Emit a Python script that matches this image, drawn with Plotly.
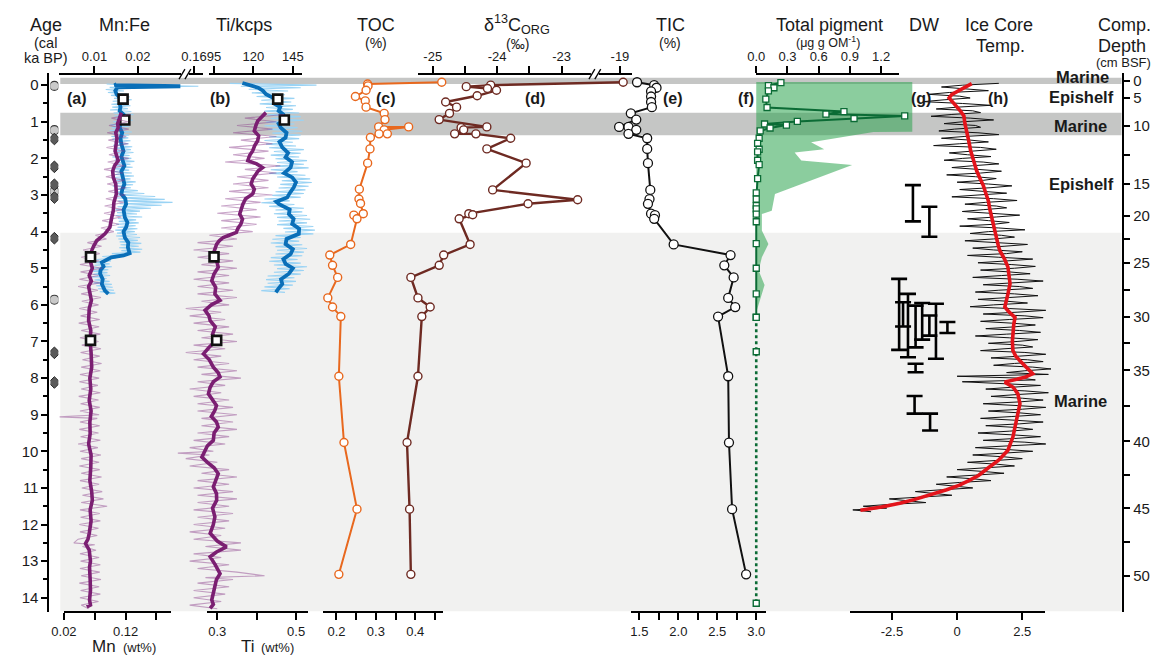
import plotly.graph_objects as go

W, H = 1160, 658
def px(x): return x / W
def py(y): return 1 - y / H

# ---------------- age axis model (pixels of the reference) ----------------
AGE_PX0, PX_PER_KA = 84.3, 36.67
AGE_RANGE = [(612 - AGE_PX0) / PX_PER_KA, (72 - AGE_PX0) / PX_PER_KA]

# ---------------- data ----------------
LEFT_CIRCLE_AGE = [0.02, 1.23, 2.90, 5.86]
LEFT_DIAMOND_AGE = [1.47, 2.23, 2.72, 3.07, 4.18, 7.31, 8.12]

MARINE_BANDS = [(-0.20, -0.035), (0.75, 1.37)]
MARINE_LOWER_START = 4.03

# (a) Mn:Fe smoothed (blue) and raw (light blue)
MNFE_SM = [(-0.03,0.0151),(0.00,0.0146),(0.03,0.0298),(0.06,0.0153),(0.15,0.0148),(0.25,0.0151),(0.38,0.0162),
           (0.50,0.0158),(0.60,0.0160),(0.70,0.0158),(0.80,0.0167),(0.95,0.0166),(1.05,0.0160),(1.16,0.0158),
           (1.30,0.0164),(1.45,0.0160),(1.61,0.0162),(1.80,0.0167),(1.95,0.0162),(2.06,0.0166),(2.20,0.0169),
           (2.35,0.0162),(2.52,0.0166),(2.70,0.0169),(2.85,0.0164),(2.97,0.0162),(3.10,0.0171),(3.25,0.0173),
           (3.40,0.0167),(3.61,0.0170),(3.75,0.0176),(3.88,0.0173),(4.00,0.0167),(4.16,0.0170),(4.30,0.0178),
           (4.43,0.0177),(4.59,0.0181),(4.65,0.0167),(4.70,0.0139),(4.77,0.0126),(4.84,0.0117),(4.95,0.0121),
           (5.05,0.0114),(5.15,0.0113),(5.30,0.0119),(5.43,0.0117),(5.55,0.0123),(5.61,0.0124),(5.70,0.0132)]
MNFE_RAW = [(-0.03,0.0128),(0.00,0.0175),(0.03,0.161),(0.06,0.0135),(0.09,0.0172),(0.12,0.0126),(0.16,0.0168),
            (0.20,0.0131),(0.24,0.0175),(0.28,0.0138),(0.32,0.0181),(0.36,0.0145),(0.40,0.0186),(0.44,0.0142),
            (0.48,0.0178),(0.52,0.0139),(0.56,0.0183),(0.60,0.0141),(0.64,0.0177),(0.68,0.0136),(0.72,0.0185),
            (0.76,0.0144),(0.80,0.0190),(0.84,0.0146),(0.88,0.0182),(0.92,0.0150),(0.96,0.0188),(1.00,0.0143),
            (1.04,0.0176),(1.08,0.0137),(1.12,0.0181),(1.16,0.0140),(1.20,0.0173),(1.24,0.0135),(1.28,0.0186),
            (1.32,0.0142),(1.36,0.0180),(1.40,0.0139),(1.44,0.0178),(1.48,0.0141),(1.52,0.0183),(1.56,0.0145),
            (1.60,0.0179),(1.64,0.0143),(1.68,0.0187),(1.72,0.0148),(1.76,0.0184),(1.80,0.0144),(1.84,0.0190),
            (1.88,0.0146),(1.92,0.0181),(1.96,0.0141),(2.00,0.0185),(2.04,0.0147),(2.08,0.0192),(2.12,0.0149),
            (2.16,0.0183),(2.20,0.0145),(2.24,0.0188),(2.28,0.0140),(2.32,0.0180),(2.36,0.0143),(2.40,0.0186),
            (2.44,0.0148),(2.48,0.0191),(2.52,0.0144),(2.56,0.0183),(2.60,0.0150),(2.64,0.0195),(2.68,0.0146),
            (2.72,0.0189),(2.76,0.0142),(2.80,0.0184),(2.84,0.0147),(2.88,0.0200),(2.92,0.0145),(2.96,0.0215),
            (3.00,0.0150),(3.04,0.0240),(3.08,0.0152),(3.12,0.0262),(3.16,0.0155),(3.20,0.0280),(3.24,0.0158),
            (3.28,0.0255),(3.32,0.0153),(3.36,0.0230),(3.40,0.0149),(3.44,0.0205),(3.48,0.0152),(3.52,0.0198),
            (3.56,0.0150),(3.60,0.0210),(3.64,0.0154),(3.68,0.0196),(3.72,0.0156),(3.76,0.0202),(3.80,0.0150),
            (3.84,0.0195),(3.88,0.0153),(3.92,0.0199),(3.96,0.0148),(4.00,0.0193),(4.04,0.0152),(4.08,0.0198),
            (4.12,0.0150),(4.16,0.0205),(4.20,0.0155),(4.24,0.0200),(4.28,0.0158),(4.32,0.0208),(4.36,0.0160),
            (4.40,0.0202),(4.44,0.0157),(4.48,0.0210),(4.52,0.0162),(4.56,0.0206),(4.60,0.0140),(4.64,0.0175),
            (4.68,0.0118),(4.72,0.0150),(4.76,0.0105),(4.80,0.0138),(4.84,0.0098),(4.88,0.0135),(4.92,0.0100),
            (4.96,0.0140),(5.00,0.0097),(5.04,0.0132),(5.08,0.0095),(5.12,0.0130),(5.16,0.0098),(5.20,0.0136),
            (5.24,0.0094),(5.28,0.0128),(5.32,0.0100),(5.36,0.0135),(5.40,0.0098),(5.44,0.0140),(5.48,0.0104),
            (5.52,0.0142),(5.56,0.0108),(5.60,0.0145),(5.64,0.0112),(5.68,0.0148),(5.70,0.0125)]

# (a) Mn wt% smoothed (purple) and raw
MN_SM = [(0.75,0.113),(0.9,0.110),(1.05,0.107),(1.16,0.108),(1.3,0.104),(1.45,0.106),(1.61,0.105),(1.8,0.103),
         (2.06,0.108),(2.2,0.102),(2.35,0.099),(2.52,0.100),(2.7,0.104),(2.97,0.105),(3.2,0.101),(3.43,0.100),
         (3.65,0.097),(3.88,0.0945),(4.06,0.0865),(4.15,0.079),(4.25,0.073),(4.4,0.068),(4.52,0.065),(4.79,0.0625),
         (5.0,0.066),(5.2,0.061),(5.35,0.0645),(5.5,0.060),(5.7,0.063),(5.88,0.0645),(6.1,0.061),(6.43,0.060),
         (6.7,0.0635),(7.0,0.0625),(7.3,0.064),(7.7,0.065),(8.0,0.062),(8.3,0.0635),(8.61,0.061),(8.9,0.064),
         (9.2,0.062),(9.52,0.0625),(9.8,0.060),(10.1,0.064),(10.43,0.0635),(10.8,0.062),(11.1,0.065),(11.34,0.066),
         (11.6,0.0625),(11.9,0.064),(12.24,0.061),(12.4,0.059),(12.52,0.055),(12.7,0.061),(13.0,0.063),
         (13.16,0.0615),(13.5,0.0625),(13.8,0.063),(14.06,0.0615),(14.2,0.063),(14.25,0.057)]
MN_RAW = [(0.8,0.128),(0.9,0.097),(1.0,0.124),(1.1,0.093),(1.2,0.125),(1.3,0.090),(1.4,0.121),(1.5,0.092),
          (1.6,0.124),(1.7,0.089),(1.8,0.119),(1.9,0.093),(2.0,0.125),(2.1,0.091),(2.2,0.118),(2.3,0.085),
          (2.4,0.116),(2.5,0.088),(2.6,0.118),(2.7,0.090),(2.8,0.121),(2.9,0.092),(3.0,0.120),(3.1,0.088),
          (3.2,0.117),(3.3,0.086),(3.4,0.115),(3.5,0.085),(3.6,0.113),(3.7,0.082),(3.8,0.109),(3.9,0.080),
          (4.0,0.101),(4.1,0.071),(4.2,0.089),(4.3,0.058),(4.4,0.081),(4.5,0.051),(4.6,0.078),(4.7,0.048),
          (4.8,0.077),(4.9,0.046),(5.0,0.082),(5.1,0.047),(5.2,0.076),(5.3,0.045),(5.4,0.079),(5.5,0.043),
          (5.6,0.075),(5.7,0.048),(5.8,0.080),(5.9,0.049),(6.0,0.076),(6.1,0.045),(6.2,0.074),(6.3,0.047),
          (6.4,0.078),(6.5,0.044),(6.6,0.077),(6.7,0.048),(6.8,0.079),(6.9,0.046),(7.0,0.076),(7.1,0.049),
          (7.2,0.080),(7.3,0.047),(7.4,0.078),(7.5,0.050),(7.6,0.081),(7.7,0.048),(7.8,0.079),(7.9,0.046),
          (8.0,0.077),(8.1,0.045),(8.2,0.075),(8.3,0.048),(8.4,0.079),(8.5,0.044),(8.6,0.076),(8.7,0.047),
          (8.8,0.078),(8.9,0.046),(9.0,0.077),(9.06,0.013),(9.1,0.074),(9.2,0.046),(9.3,0.078),(9.4,0.045),
          (9.5,0.076),(9.6,0.047),(9.7,0.079),(9.8,0.043),(9.9,0.075),(10.0,0.046),(10.1,0.080),(10.2,0.048),
          (10.3,0.077),(10.4,0.045),(10.5,0.078),(10.6,0.048),(10.7,0.081),(10.8,0.046),(10.9,0.077),(11.0,0.049),
          (11.1,0.082),(11.2,0.050),(11.3,0.084),(11.4,0.048),(11.5,0.090),(11.6,0.046),(11.7,0.078),(11.8,0.047),
          (11.9,0.079),(12.0,0.045),(12.1,0.076),(12.2,0.046),(12.3,0.074),(12.4,0.043),(12.5,0.036),(12.55,0.070),
          (12.6,0.050),(12.7,0.072),(12.8,0.046),(12.9,0.077),(13.0,0.047),(13.1,0.079),(13.2,0.046),(13.3,0.078),
          (13.4,0.048),(13.5,0.080),(13.6,0.045),(13.7,0.077),(13.8,0.047),(13.9,0.079),(14.0,0.046),(14.1,0.076),
          (14.2,0.048),(14.3,0.060)]

# (b) Ti/kcps smoothed (blue) and raw
TIK_SM = [(-0.06,113),(0.0,118),(0.07,123),(0.15,126),(0.25,128),(0.38,134),(0.5,133),(0.6,137),(0.7,136),
          (0.8,139),(0.96,139.4),(1.05,136),(1.16,137.3),(1.3,141),(1.43,140.4),(1.55,136.5),(1.7,138.3),
          (1.85,142),(1.97,140.4),(2.1,144.5),(2.25,143.6),(2.4,139.5),(2.52,144.6),(2.65,147),(2.79,145.6),
          (2.95,143),(3.07,141.4),(3.18,134.5),(3.25,136.3),(3.4,143),(3.52,142.5),(3.65,145.5),(3.79,144.6),
          (3.92,149),(4.06,148.8),(4.2,141),(4.34,140.4),(4.48,145),(4.61,143.6),(4.75,139),(4.88,140.4),
          (5.0,145),(5.15,142.5),(5.3,137.5),(5.43,138.3),(5.55,136),(5.66,134.2)]
TIK_RAW = [(-0.05,105),(0.0,160),(0.03,112),(0.07,150),(0.11,117),(0.16,142),(0.21,119),(0.26,140),(0.31,122),
           (0.36,146),(0.41,125),(0.46,144),(0.51,124),(0.56,147),(0.61,128),(0.66,145),(0.71,127),(0.76,149),
           (0.81,129),(0.86,150),(0.91,131),(0.96,152),(1.01,128),(1.06,146),(1.11,127),(1.16,148),(1.21,129),
           (1.26,151),(1.31,132),(1.36,150),(1.41,130),(1.46,149),(1.51,127),(1.56,145),(1.61,128),(1.66,147),
           (1.71,130),(1.76,152),(1.81,133),(1.86,150),(1.91,131),(1.96,149),(2.01,134),(2.06,154),(2.11,135),
           (2.16,152),(2.21,134),(2.26,155),(2.31,131),(2.36,148),(2.41,130),(2.46,153),(2.51,135),(2.56,156),
           (2.61,138),(2.66,157),(2.71,137),(2.76,155),(2.81,136),(2.86,153),(2.91,134),(2.96,152),(3.01,132),
           (3.06,150),(3.11,127),(3.16,143),(3.21,125),(3.26,146),(3.31,130),(3.36,152),(3.41,134),(3.46,151),
           (3.51,133),(3.56,154),(3.61,135),(3.66,156),(3.71,136),(3.76,154),(3.81,135),(3.86,158),(3.91,139),
           (3.96,159),(4.01,140),(4.06,158),(4.11,134),(4.16,150),(4.21,132),(4.26,149),(4.31,131),(4.36,151),
           (4.41,134),(4.46,154),(4.51,135),(4.56,152),(4.61,134),(4.66,151),(4.71,131),(4.76,148),(4.81,130),
           (4.86,150),(4.91,133),(4.96,154),(5.01,135),(5.06,152),(5.11,133),(5.16,150),(5.21,129),(5.26,146),
           (5.31,128),(5.36,147),(5.41,129),(5.46,145),(5.51,127),(5.56,143),(5.61,125),(5.66,140)]

# (b) Ti wt% smoothed (purple) and raw
TI_SM = [(0.75,0.4235),(0.87,0.412),(0.98,0.4025),(1.1,0.398),(1.25,0.394),(1.38,0.405),(1.52,0.4025),(1.65,0.395),
         (1.79,0.39),(1.92,0.382),(2.06,0.3775),(2.15,0.40),(2.25,0.415),(2.34,0.404),(2.43,0.3985),(2.56,0.39),
         (2.70,0.386),(2.84,0.394),(2.97,0.39),(3.1,0.372),(3.25,0.365),(3.38,0.362),(3.52,0.357),(3.66,0.364),
         (3.79,0.36),(3.92,0.352),(4.02,0.3485),(4.10,0.33),(4.16,0.315),(4.25,0.305),(4.34,0.2985),(4.48,0.294),
         (4.61,0.29),(4.78,0.298),(4.97,0.3025),(5.15,0.292),(5.34,0.286),(5.52,0.296),(5.70,0.294),(5.88,0.307),
         (6.0,0.285),(6.15,0.269),(6.3,0.279),(6.43,0.282),(6.6,0.295),(6.8,0.288),(6.97,0.2985),(7.15,0.28),
         (7.34,0.265),(7.5,0.28),(7.7,0.29),(7.85,0.302),(7.97,0.307),(8.1,0.29),(8.25,0.282),(8.43,0.2775),
         (8.6,0.288),(8.75,0.298),(8.88,0.294),(9.05,0.285),(9.2,0.298),(9.34,0.3025),(9.5,0.292),(9.7,0.29),
         (9.85,0.275),(10.0,0.268),(10.16,0.261),(10.3,0.275),(10.45,0.292),(10.61,0.3025),(10.8,0.296),
         (10.97,0.29),(11.15,0.298),(11.34,0.2985),(11.55,0.288),(11.79,0.294),(12.0,0.29),(12.24,0.282),
         (12.45,0.30),(12.61,0.3235),(12.75,0.298),(12.88,0.282),(13.1,0.295),(13.34,0.307),(13.5,0.298),
         (13.7,0.294),(13.88,0.29),(14.06,0.286),(14.18,0.29),(14.29,0.282)]
TI_RAW = [(0.8,0.47),(0.9,0.37),(1.0,0.45),(1.1,0.35),(1.2,0.44),(1.3,0.34),(1.4,0.45),(1.5,0.36),(1.6,0.44),
          (1.7,0.33),(1.8,0.43),(1.9,0.34),(2.0,0.42),(2.1,0.32),(2.2,0.46),(2.3,0.37),(2.4,0.45),(2.5,0.35),
          (2.6,0.43),(2.7,0.34),(2.8,0.43),(2.9,0.33),(3.0,0.44),(3.1,0.32),(3.2,0.41),(3.3,0.31),(3.4,0.40),
          (3.5,0.30),(3.6,0.41),(3.7,0.31),(3.8,0.40),(3.9,0.31),(4.0,0.39),(4.1,0.28),(4.2,0.35),(4.3,0.25),
          (4.4,0.34),(4.5,0.24),(4.6,0.33),(4.7,0.25),(4.8,0.34),(4.9,0.26),(5.0,0.35),(5.1,0.25),(5.2,0.33),
          (5.3,0.24),(5.4,0.33),(5.5,0.25),(5.6,0.34),(5.7,0.25),(5.8,0.35),(5.9,0.26),(6.0,0.33),(6.1,0.22),
          (6.2,0.31),(6.3,0.23),(6.4,0.32),(6.5,0.24),(6.6,0.33),(6.7,0.25),(6.8,0.34),(6.9,0.26),(7.0,0.35),
          (7.1,0.24),(7.2,0.32),(7.3,0.22),(7.4,0.31),(7.5,0.24),(7.6,0.33),(7.7,0.25),(7.8,0.35),(7.9,0.26),
          (8.0,0.36),(8.1,0.25),(8.2,0.32),(8.3,0.23),(8.4,0.31),(8.5,0.24),(8.6,0.33),(8.7,0.25),(8.8,0.34),
          (8.9,0.25),(9.0,0.35),(9.1,0.26),(9.2,0.34),(9.3,0.26),(9.4,0.35),(9.5,0.25),(9.6,0.33),(9.7,0.24),
          (9.8,0.32),(9.9,0.23),(10.0,0.29),(10.05,0.20),(10.1,0.28),(10.2,0.22),(10.3,0.30),(10.4,0.23),
          (10.5,0.33),(10.6,0.26),(10.7,0.35),(10.8,0.25),(10.9,0.33),(11.0,0.24),(11.1,0.34),(11.2,0.25),
          (11.3,0.35),(11.4,0.25),(11.5,0.33),(11.6,0.24),(11.7,0.34),(11.8,0.25),(11.9,0.33),(12.0,0.24),
          (12.1,0.32),(12.2,0.23),(12.3,0.31),(12.4,0.24),(12.5,0.36),(12.6,0.27),(12.7,0.36),(12.8,0.24),
          (12.9,0.31),(13.0,0.23),(13.1,0.33),(13.2,0.25),(13.3,0.35),(13.4,0.42),(13.45,0.27),(13.5,0.34),
          (13.6,0.25),(13.7,0.33),(13.8,0.24),(13.9,0.32),(14.0,0.24),(14.1,0.31),(14.2,0.23),(14.3,0.30)]

# sample squares on (a) and (b)
SQ_MNFE = [(0.38,0.0166),(0.95,0.0170)]
SQ_MN = [(4.69,0.0631),(6.97,0.0631)]
SQ_TIK = [(0.38,135.4),(0.95,139.6)]
SQ_TI = [(4.69,0.2918),(6.97,0.2985)]

# (c) TOC, (d) d13C, (e) TIC
TOC_AGE = [-0.08,-0.03,0.02,0.14,0.31,0.43,0.60,0.77,0.94,1.14,1.14,1.22,1.33,1.33,1.43,1.74,2.13,2.84,3.11,3.23,
           3.51,3.55,3.65,4.35,4.64,4.92,5.25,5.81,6.06,6.32,7.95,9.76,11.58,13.36]
TOC = [0.467,0.279,0.280,0.275,0.248,0.273,0.275,0.321,0.323,0.307,0.383,0.321,0.329,0.308,0.286,0.285,0.279,
       0.258,0.257,0.261,0.268,0.244,0.252,0.236,0.183,0.190,0.203,0.178,0.190,0.211,0.206,0.219,0.252,0.206]
D13C_AGE = [-0.08,0.00,0.04,0.09,0.14,0.29,0.46,0.60,0.77,0.94,1.14,1.16,1.22,1.33,1.33,1.45,1.74,2.13,2.86,3.13,
            3.24,3.51,3.54,3.65,4.35,4.64,4.92,5.25,5.81,6.06,6.32,7.95,9.76,11.58,13.36]
D13C = [-18.95,-24.10,-24.48,-24.15,-24.01,-24.31,-24.80,-24.63,-24.74,-24.90,-24.16,-24.56,-24.52,-24.66,-24.33,
        -23.79,-24.16,-23.55,-24.07,-22.75,-23.52,-24.44,-24.38,-24.59,-24.42,-24.83,-24.90,-25.34,-25.23,-25.04,
        -25.17,-25.23,-25.40,-25.36,-25.34]
TIC_AGE = [-0.08,0.00,0.07,0.17,0.31,0.46,0.60,0.77,0.94,1.14,1.14,1.22,1.33,1.45,1.74,2.13,2.86,3.11,3.24,3.51,
           3.55,3.65,4.35,4.64,4.92,5.25,5.81,6.06,6.32,7.95,9.76,11.58,13.36]
TIC = [1.47,1.69,1.72,1.65,1.65,1.65,1.66,1.39,1.46,1.24,1.36,1.46,1.36,1.60,1.60,1.61,1.64,1.63,1.61,1.65,
       1.70,1.69,1.94,2.67,2.59,2.71,2.64,2.73,2.51,2.64,2.65,2.69,2.87]

# (f) total pigment
PIG_AGE = [-0.07,0.01,0.07,0.155,0.38,0.61,0.72,0.79,0.84,0.91,0.99,1.06,1.09,1.17,1.25,1.45,1.59,1.75,1.82,2.05,
           2.17,2.55,2.94,3.11,3.29,3.38,3.52,3.73,4.33,5.00,5.70,6.34]
PIG = [0.237,0.117,0.17,0.117,0.092,0.104,0.843,0.67,1.427,0.94,0.395,0.08,0.29,0.133,0.038,0.028,0.013,0.028,
       0.013,0.013,0.028,0.013,0,0,0,0,0,0,0,0,0,0]
PIG_BDL_AGE = [6.34, 7.28, 14.15]
PIG_BDL = [0, 0, 0]
PIG_ENV = [(-0.09,1.5),(1.27,1.5),(1.28,1.127),(1.56,0.527),(1.75,0.653),(1.84,0.369),(2.06,0.433),(2.18,0.922),
           (2.97,0.18),(3.43,0.149),(3.52,0.054),(3.97,0.054),(4.34,0.117),(4.70,0.054),(5.06,0.023),(5.46,0.08),
           (6.20,0.0)]

# (g) DW  (x, top age, bottom age)
DW = [(-1.695,2.73,3.72),(-1.064,3.32,4.14),(-2.224,5.29,7.23),(-1.884,5.70,7.43),(-2.073,5.93,6.59),
      (-1.593,6.02,7.16),(-0.811,5.97,7.47),(-1.064,6.29,6.84),(-0.372,6.47,6.77),(-1.34,5.95,6.95),
      (-1.593,7.61,7.84),(-1.631,8.49,8.97),(-1.037,8.97,9.43)]

# (h) ice core temperature
ICE_SM = [(-0.04,0.56),(0.12,0.1),(0.25,-0.2),(0.35,-0.31),(0.45,-0.2),(0.56,-0.05),(0.7,0.12),(0.84,0.26),
          (1.05,0.3),(1.25,0.37),(1.5,0.44),(1.79,0.52),(2.05,0.63),(2.34,0.75),(2.55,0.88),(2.75,1.01),(2.95,1.1),
          (3.16,1.2),(3.37,1.25),(3.57,1.31),(3.78,1.37),(3.98,1.43),(4.2,1.52),(4.38,1.58),(4.52,1.64),(4.75,1.82),
          (4.97,1.95),(5.2,2.0),(5.42,2.03),(5.7,1.95),(5.9,1.88),(6.06,1.83),(6.2,2.0),(6.34,2.22),(6.55,2.17),
          (6.78,2.14),(7.0,2.12),(7.25,2.14),(7.4,2.25),(7.52,2.4),(7.7,2.65),(7.88,2.9),(7.98,2.6),(8.06,2.2),
          (8.11,1.83),(8.25,2.15),(8.43,2.33),(8.70,2.41),(8.9,2.35),(9.15,2.26),(9.4,2.2),(9.61,2.14),(9.8,2.04),
          (9.97,1.95),(10.1,1.78),(10.25,1.58),(10.45,1.2),(10.66,0.82),(10.8,0.45),(10.93,0.07),(11.05,-0.4),
          (11.2,-1.06),(11.32,-1.65),(11.42,-2.2),(11.52,-2.9),(11.61,-3.71)]
ICE_RAW = [(-0.05,1.6),(0.0,0.2),(0.05,-0.6),(0.1,0.4),(0.15,1.2),(0.2,-0.3),(0.25,-1.1),(0.3,0.1),(0.35,0.5),
           (0.4,-0.5),(0.45,-1.3),(0.5,0.2),(0.55,1.3),(0.6,0.0),(0.65,-0.8),(0.7,0.6),(0.75,0.9),(0.8,-0.2),
           (0.85,-1.0),(0.9,0.5),(0.95,1.4),(1.0,0.2),(1.05,-0.5),(1.1,0.7),(1.15,0.9),(1.2,-0.1),(1.25,-0.7),
           (1.3,0.8),(1.35,1.6),(1.4,0.3),(1.45,-0.6),(1.5,0.5),(1.55,1.2),(1.6,0.1),(1.65,-0.9),(1.7,0.9),
           (1.75,1.5),(1.8,0.6),(1.85,-0.3),(1.9,0.4),(1.95,1.3),(2.0,0.2),(2.05,-0.5),(2.1,1.0),(2.15,1.6),
           (2.2,0.6),(2.25,-0.2),(2.3,0.8),(2.35,1.7),(2.4,0.9),(2.45,-0.4),(2.5,0.7),(2.55,1.5),(2.6,1.0),
           (2.65,0.0),(2.7,1.2),(2.75,2.1),(2.8,1.3),(2.85,0.1),(2.9,1.0),(2.95,1.9),(3.0,0.8),(3.05,-0.2),
           (3.1,1.4),(3.15,2.3),(3.2,1.1),(3.25,0.3),(3.3,1.5),(3.35,1.9),(3.4,1.0),(3.45,0.2),(3.5,1.3),
           (3.55,2.4),(3.6,1.5),(3.65,0.4),(3.7,1.2),(3.75,2.0),(3.8,1.4),(3.85,0.1),(3.9,1.6),(3.95,2.6),
           (4.0,1.2),(4.05,0.5),(4.1,1.7),(4.15,2.2),(4.2,1.4),(4.25,0.3),(4.3,1.5),(4.35,2.7),(4.4,1.8),
           (4.45,0.6),(4.5,1.4),(4.55,2.5),(4.6,1.9),(4.65,0.4),(4.7,1.6),(4.75,2.9),(4.8,1.9),(4.85,0.8),
           (4.9,2.1),(4.95,3.0),(5.0,2.2),(5.05,0.9),(5.1,2.0),(5.15,2.8),(5.2,1.7),(5.25,0.6),(5.3,2.3),
           (5.35,3.3),(5.4,2.1),(5.45,1.0),(5.5,2.4),(5.55,2.9),(5.6,1.6),(5.65,0.7),(5.7,2.2),(5.75,3.1),
           (5.8,2.0),(5.85,0.8),(5.9,1.9),(5.95,2.7),(6.0,1.4),(6.05,0.5),(6.1,2.0),(6.15,3.4),(6.2,2.3),
           (6.25,1.0),(6.3,2.6),(6.35,3.3),(6.4,2.0),(6.45,0.9),(6.5,2.1),(6.55,3.0),(6.6,2.2),(6.65,1.1),
           (6.7,2.4),(6.75,3.2),(6.8,1.9),(6.85,0.7),(6.9,2.0),(6.95,3.1),(7.0,2.3),(7.05,1.2),(7.1,2.5),
           (7.15,2.9),(7.2,1.8),(7.25,0.9),(7.3,2.6),(7.35,3.4),(7.4,2.4),(7.45,1.3),(7.5,2.7),(7.55,3.3),
           (7.6,2.2),(7.65,1.4),(7.7,2.9),(7.75,3.6),(7.8,2.6),(7.85,1.9),(7.9,3.5),(7.95,0.0),(8.0,2.4),
           (8.05,3.0),(8.1,0.2),(8.15,2.0),(8.2,3.2),(8.25,2.1),(8.3,1.1),(8.35,2.6),(8.4,3.5),(8.45,2.3),
           (8.5,1.3),(8.55,2.5),(8.6,3.3),(8.65,2.4),(8.7,1.0),(8.75,2.3),(8.8,3.4),(8.85,2.5),(8.9,1.2),
           (8.95,2.4),(9.0,3.2),(9.05,2.1),(9.1,0.9),(9.15,2.2),(9.2,3.3),(9.25,2.4),(9.3,1.1),(9.35,2.3),
           (9.4,2.9),(9.45,2.0),(9.5,0.8),(9.55,2.1),(9.6,3.2),(9.65,2.2),(9.7,1.0),(9.75,2.6),(9.8,3.4),
           (9.85,2.0),(9.9,0.7),(9.95,1.9),(10.0,2.9),(10.05,1.8),(10.1,0.6),(10.15,1.8),(10.2,2.5),(10.25,1.5),
           (10.3,0.4),(10.35,1.5),(10.4,2.2),(10.45,1.1),(10.5,0.0),(10.55,1.0),(10.6,1.8),(10.65,0.7),(10.7,-0.4),
           (10.75,0.6),(10.8,1.3),(10.85,0.1),(10.9,-0.8),(10.95,-0.1),(11.0,0.6),(11.05,-0.6),(11.1,-1.6),
           (11.15,-0.9),(11.2,-0.2),(11.25,-1.4),(11.3,-2.6),(11.35,-1.9),(11.4,-1.2),(11.45,-2.6),(11.5,-3.6),
           (11.55,-2.7),(11.6,-4.0),(11.65,-3.3)]

# composite depth axis (cm BSF) and the ages where its ticks sit
DEPTH_LABELS = ["0", "5", "10", "15", "20", "25", "30", "35", "40", "45", "50"]
DEPTH_TICK_AGE = [-0.117, 0.346, 1.110, 2.692, 3.565, 4.847, 6.320, 7.792, 9.728, 11.556, 13.410]
DEPTH_MINOR_AGE = [1.901, 4.205, 5.582, 7.055, 8.759, 10.641, 12.482]

SC = {
    'mnfe': (82.7, 0.01, 126.7, 0.02),
    'mn':   (51.7, 0.02, 114.3, 0.12),
    'tik':  (204.0, 95, 284.0, 145),
    'ti':   (207.3, 0.3, 287.3, 0.5),
    'toc':  (328.3, 0.2, 408.3, 0.4),
    'd13c': (426.0, -25, 556.7, -23),
    'tic':  (635.7, 1.5, 754.3, 3.0),
    'pig':  (754.3, 0.0, 881.0, 1.2),
    'temp': (892.0, -2.5, 1024.3, 2.5),
}
def val(sc, p):
    pa, va, pb, vb = SC[sc]
    return va + (p - pa) * (vb - va) / (pb - pa)

# broken axes
def brk_mnfe(v): return v - 0.127045 if v > 0.05 else v
def brk_d13c(v): return v - 3.093 if v > -21 else v

FONT = "Liberation Sans, Arial, sans-serif"
INK = "#1a1a1a"
BLUE, LBLUE = "#0a6fb8", "#9ad3f4"
PURP, LPURP = "#7b1f72", "rgba(135,55,135,0.45)"
ORANGE, BROWN, GREEN, RED = "#e8681e", "#6e2a22", "#0b6b35", "#e3141b"

fig = go.Figure()
def unz(pairs):
    return [p[0] for p in pairs], [p[1] for p in pairs]

def line(xaxis, ages, vals, color, width, dash=None):
    fig.add_trace(go.Scatter(x=vals, y=ages, xaxis=xaxis, yaxis="y", mode="lines",
                             line=dict(color=color, width=width, dash=dash), hoverinfo="skip", showlegend=False))

# left age markers
fig.add_trace(go.Scatter(x=[0]*len(LEFT_CIRCLE_AGE), y=LEFT_CIRCLE_AGE, xaxis="x", yaxis="y", mode="markers",
                         marker=dict(symbol="circle", size=9, color="#c9c9c9", line=dict(color="#3a3a3a", width=1.2)),
                         hoverinfo="skip", showlegend=False))
fig.add_trace(go.Scatter(x=[0]*len(LEFT_DIAMOND_AGE), y=LEFT_DIAMOND_AGE, xaxis="x", yaxis="y", mode="markers",
                         marker=dict(symbol="diamond", size=9, color="#5a5a5a", line=dict(color="#2a2a2a", width=1)),
                         hoverinfo="skip", showlegend=False))

# (a)
a, v = unz(MNFE_RAW); line("x2", a, [brk_mnfe(t) for t in v], LBLUE, 1.1)
a, v = unz(MN_RAW); line("x3", a, v, LPURP, 1.1)
a, v = unz(MNFE_SM); line("x2", a, [brk_mnfe(t) for t in v], BLUE, 3.8)
a, v = unz(MN_SM); line("x3", a, v, PURP, 3.6)
# (b)
a, v = unz(TIK_RAW); line("x4", a, v, LBLUE, 1.1)
a, v = unz(TI_RAW); line("x5", a, v, LPURP, 1.1)
a, v = unz(TIK_SM); line("x4", a, v, BLUE, 3.8)
a, v = unz(TI_SM); line("x5", a, v, PURP, 3.6)

SQ = dict(symbol="square", size=9, color="white", line=dict(color="#111", width=2.6))
for xa, pairs in (("x2", SQ_MNFE), ("x3", SQ_MN), ("x4", SQ_TIK), ("x5", SQ_TI)):
    a, v = unz(pairs)
    fig.add_trace(go.Scatter(x=v, y=a, xaxis=xa, yaxis="y", mode="markers", marker=SQ,
                             hoverinfo="skip", showlegend=False))

# (c) (d) (e)
def lm(xaxis, ages, vals, color, lw, msize, mline):
    fig.add_trace(go.Scatter(x=vals, y=ages, xaxis=xaxis, yaxis="y", mode="lines+markers",
                             line=dict(color=color, width=lw),
                             marker=dict(symbol="circle", size=msize, color="white", line=dict(color=color, width=mline)),
                             hoverinfo="skip", showlegend=False))
lm("x6", TOC_AGE, TOC, ORANGE, 2, 8, 1.4)
lm("x7", D13C_AGE, [brk_d13c(t) for t in D13C], BROWN, 2.4, 8, 1.4)
lm("x8", TIC_AGE, TIC, "#111111", 2, 9, 1.3)

# (f)
a, v = unz(PIG_ENV)
fig.add_trace(go.Scatter(x=v, y=a, xaxis="x9", yaxis="y", mode="lines", line=dict(width=0, color="rgba(0,0,0,0)"),
                         fill="tozerox", fillcolor="rgba(44,164,78,0.55)", hoverinfo="skip", showlegend=False))
fig.add_trace(go.Scatter(x=PIG_BDL, y=PIG_BDL_AGE, xaxis="x9", yaxis="y", mode="lines+markers",
                         line=dict(color=GREEN, width=2.6, dash="dot"),
                         marker=dict(symbol="square", size=6, color="white", line=dict(color=GREEN, width=1.4)),
                         hoverinfo="skip", showlegend=False))
fig.add_trace(go.Scatter(x=PIG, y=PIG_AGE, xaxis="x9", yaxis="y", mode="lines+markers",
                         line=dict(color=GREEN, width=2),
                         marker=dict(symbol="square", size=6, color="white", line=dict(color=GREEN, width=1.3)),
                         hoverinfo="skip", showlegend=False))

# (g) DW bars
fig.add_trace(go.Scatter(x=[d[0] for d in DW], y=[(d[1] + d[2]) / 2 for d in DW], xaxis="x10", yaxis="y",
                         mode="markers", marker=dict(size=1, color="rgba(0,0,0,0)"),
                         error_y=dict(type="data", array=[(d[2] - d[1]) / 2 for d in DW], color="black",
                                      thickness=2.6, width=8),
                         hoverinfo="skip", showlegend=False))
# (h)
a, v = unz(ICE_RAW); line("x10", a, v, "#111111", 1.0)
a, v = unz(ICE_SM); line("x10", a, v, RED, 3.6)

# ---------------- axes ----------------
lay = {}
lay["yaxis"] = dict(domain=[py(612), py(72)], range=AGE_RANGE, anchor="free", position=px(36), side="left",
                    showline=True, linecolor="black", linewidth=2, ticks="outside", ticklen=6, tickwidth=2,
                    tickcolor="black", tickmode="linear", tick0=0, dtick=1,
                    minor=dict(ticks="outside", ticklen=4, tickwidth=2, tickcolor="black", dtick=0.5, tick0=0),
                    tickfont=dict(size=15, color=INK, family=FONT), showgrid=False, zeroline=False, fixedrange=True)
lay["yaxis2"] = dict(overlaying="y", range=AGE_RANGE, anchor="free", position=px(1126.7), side="right",
                     showline=True, linecolor="black", linewidth=2, ticks="outside", ticklen=6, tickwidth=2,
                     tickcolor="black", tickmode="array", tickvals=DEPTH_TICK_AGE, ticktext=DEPTH_LABELS,
                     minor=dict(tickmode="array", tickvals=DEPTH_MINOR_AGE, ticks="outside", ticklen=6,
                                tickwidth=2, tickcolor="black"),
                     tickfont=dict(size=15, color=INK, family=FONT), showgrid=False, zeroline=False, fixedrange=True)

hidden = dict(visible=False, showgrid=False, zeroline=False, anchor="y", fixedrange=True)
lay["xaxis"] = dict(domain=[px(38), px(46)], range=[-1, 1], **hidden)
DATA_AX = [("x2", "mnfe", 40, 205), ("x3", "mn", 40, 205), ("x4", "tik", 160, 325), ("x5", "ti", 160, 325),
           ("x6", "toc", 305, 450), ("x7", "d13c", 395, 632), ("x8", "tic", 600, 772), ("x9", "pig", 748, 918),
           ("x10", "temp", 840, 1062)]
for name, sc, p0, p1 in DATA_AX:
    lay["xaxis" + name[1:]] = dict(domain=[px(p0), px(p1)], range=[val(sc, p0), val(sc, p1)], **hidden)

TOP_Y, BOT_Y = 73.3, 612.3
DISP = [("x11", "mnfe", 46.7, 192.7, "top", [0.01, 0.02, brk_mnfe(0.16)], ["0.01", "0.02", "0.16"], []),
        ("x12", "tik", 199.3, 293.3, "top", [95, 120, 145], ["95", "120", "145"], []),
        ("x13", "d13c", 411, 627.7, "top", [-25, -24, -23, brk_d13c(-19)], ["-25", "-24", "-23", "-19"],
         [-24.5, -23.5]),
        ("x14", "pig", 754.3, 898.7, "top", [0, 0.3, 0.6, 0.9, 1.2], ["0.0", "0.3", "0.6", "0.9", "1.2"], []),
        ("x15", "mn", 51.7, 160.7, "bottom", [0.02, 0.12], ["0.02", "0.12"], [0.07, 0.17]),
        ("x16", "ti", 196.7, 299.3, "bottom", [0.3, 0.5], ["0.3", "0.5"], [0.4]),
        ("x17", "toc", 315, 436.7, "bottom", [0.2, 0.3, 0.4], ["0.2", "0.3", "0.4"], [0.25, 0.35, 0.45]),
        ("x18", "tic", 627.5, 764.3, "bottom", [1.5, 2.0, 2.5, 3.0], ["1.5", "2.0", "2.5", "3.0"],
         [1.75, 2.25, 2.75]),
        ("x19", "temp", 849, 1047, "bottom", [-2.5, 0, 2.5], ["-2.5", "0", "2.5"], [])]
for name, sc, p0, p1, side, tv, tt, mv in DISP:
    ax = dict(domain=[px(p0), px(p1)], range=[val(sc, p0), val(sc, p1)], anchor="free",
              position=py(TOP_Y if side == "top" else BOT_Y), side=side, showline=True,
              linecolor="black", linewidth=2, ticks="outside", ticklen=7, tickwidth=2,
              tickcolor="black", tickmode="array", tickvals=tv, ticktext=tt,
              tickfont=dict(size=13, color=INK, family=FONT), showgrid=False,
              zeroline=False, fixedrange=True)
    if mv:
        ax["minor"] = dict(tickmode="array", tickvals=mv, ticks="outside", ticklen=7, tickwidth=2,
                           tickcolor="black", showgrid=False)
    lay["xaxis" + name[1:]] = ax
    fig.add_trace(go.Scatter(x=[None], y=[None], xaxis=name, yaxis="y", mode="markers",
                             hoverinfo="skip", showlegend=False))
fig.add_trace(go.Scatter(x=[None], y=[None], xaxis="x", yaxis="y2", mode="markers",
                         hoverinfo="skip", showlegend=False))

# ---------------- background bands and axis-break marks ----------------
shapes = []
shapes.append(dict(type="rect", xref="paper", yref="y", x0=px(48), x1=px(1125), y0=MARINE_LOWER_START,
                   y1=AGE_RANGE[0] - 0.02, fillcolor="#f1f1f0", line=dict(width=0), layer="below"))
for y0, y1 in MARINE_BANDS:
    shapes.append(dict(type="rect", xref="paper", yref="y", x0=px(48), x1=px(1125), y0=y0, y1=y1,
                       fillcolor="#c5c6c5", line=dict(width=0), layer="below"))
for bx in (174.5, 590.5):
    shapes.append(dict(type="rect", xref="paper", yref="paper", x0=px(bx - 4), x1=px(bx + 4),
                       y0=py(TOP_Y + 3), y1=py(TOP_Y - 3), fillcolor="white", line=dict(width=0), layer="above"))
    for dx in (-3, 3):
        shapes.append(dict(type="line", xref="paper", yref="paper", x0=px(bx + dx - 3), y0=py(TOP_Y + 5),
                           x1=px(bx + dx + 3), y1=py(TOP_Y - 5), line=dict(color="black", width=1.3),
                           layer="above"))

# ---------------- texts ----------------
ann = []
def txt(x, y, s, size, bold=False, xanchor="center"):
    ann.append(dict(x=px(x), y=py(y), xref="paper", yref="paper", text=("<b>%s</b>" % s) if bold else s,
                    showarrow=False, xanchor=xanchor, yanchor="middle",
                    font=dict(size=size, color=INK, family=FONT)))
txt(33, 24, "Age", 18); txt(33, 42, "(cal", 14.5); txt(33, 57, "ka BP)", 14.5)
txt(113, 24, "Mn:Fe", 18); txt(234, 24, "Ti/kcps", 18)
txt(368, 24, "TOC", 18); txt(368, 42, "(%)", 14)
txt(512, 24, "δ<sup>13</sup>C<sub>ORG</sub>", 18); txt(512, 43, "(‰)", 14)
txt(667, 24, "TIC", 18); txt(667, 42, "(%)", 14)
txt(829, 24, "Total pigment", 18); txt(827, 41, "(μg g OM<sup>-1</sup>)", 12.5)
txt(925, 24, "DW", 18)
txt(1001, 24, "Ice Core", 18); txt(1002, 45, "Temp.", 18)
txt(1128, 24, "Comp.", 18); txt(1125, 45, "Depth", 18); txt(1127, 62, "(cm BSF)", 13)
for x, s in ((65, "(a)"), (210, "(b)"), (379, "(c)"), (530, "(d)"), (670, "(e)"), (744, "(f)"), (922, "(g)"), (1000, "(h)")):
    txt(x, 97.5, s, 16, bold=True)
txt(1085, 76, "Marine", 16.5, bold=True)
txt(1084, 96, "Epishelf", 16.5, bold=True)
txt(1083, 125, "Marine", 16.5, bold=True)
txt(1084, 183, "Epishelf", 16.5, bold=True)
txt(1083, 401, "Marine", 16.5, bold=True)
txt(92, 646, "Mn", 17); txt(128, 647, "(wt%)", 13)
txt(239, 646, "Ti", 17); txt(268, 647, "(wt%)", 13)

lay.update(width=W, height=H, margin=dict(l=0, r=0, t=0, b=0), paper_bgcolor="white",
           plot_bgcolor="rgba(0,0,0,0)", showlegend=False, shapes=shapes, annotations=ann,
           font=dict(family=FONT, color=INK))
fig.update_layout(**lay)
fig.write_html("out.html", config={"displayModeBar": False},
               post_script="document.body.style.margin='0px';document.body.style.overflow='hidden';")
